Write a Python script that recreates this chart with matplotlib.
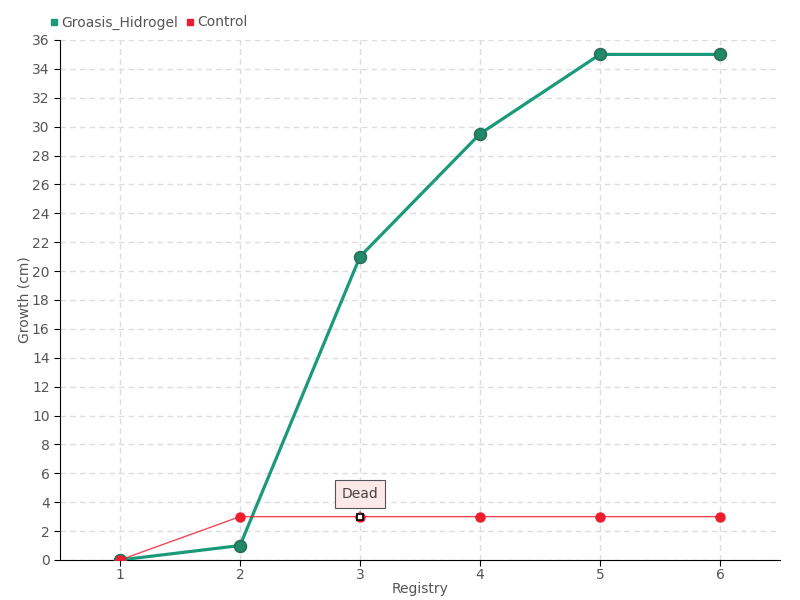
import matplotlib
matplotlib.use("Agg")
import matplotlib.pyplot as plt
from matplotlib.lines import Line2D

registry = [1, 2, 3, 4, 5, 6]
groasis = [0, 1, 21, 29.5, 35, 35]
control = [0, 3, 3, 3, 3, 3]
y_ticks = list(range(0, 37, 2))

green = '#1a9a7a'
red = '#ee1c2e'
text_col = '#555555'

fig = plt.figure(figsize=(8, 6), dpi=100)
ax = fig.add_axes([0.075, 0.0667, 0.9, 0.8667])

ax.plot(registry, groasis, color=green, linewidth=2.3, marker='o', markersize=8.5,
        markerfacecolor='#1f8a6a', markeredgecolor='#2a6e55', markeredgewidth=1.2, zorder=3)
ax.plot(registry, control, color=red, linewidth=1, alpha=0.8, zorder=4)
ax.plot(registry, control, linestyle='none', marker='o', markersize=6.5,
        markerfacecolor=red, markeredgecolor=red, zorder=5)
# highlighted point
ax.plot([registry[2]], [control[2]], linestyle='none', marker='s', markersize=4,
        markerfacecolor='white', markeredgecolor='black', markeredgewidth=1.2, zorder=6)

ax.annotate('Dead', xy=(registry[2], control[2]), xytext=(0, 16), textcoords='offset points',
            ha='center', va='center', fontsize=10, color='#444444',
            bbox=dict(boxstyle='square,pad=0.5', fc='#fde8e8', ec='#555555', lw=0.8),
            arrowprops=dict(arrowstyle='-', color='#555555', lw=0.8), zorder=7)

ax.set_xlim(0.5, 6.5)
ax.set_ylim(0, 36)
ax.set_xticks(registry)
ax.set_yticks(y_ticks)
ax.tick_params(colors=text_col, labelsize=10, length=4)
ax.tick_params(axis='y', color='black')
ax.tick_params(axis='x', color='black', pad=2)
ax.grid(True, color='#dddddd', linestyle=(0, (4, 3)), linewidth=1)
ax.set_axisbelow(True)
for s in ['top', 'right']:
    ax.spines[s].set_visible(False)
ax.spines['left'].set_color('black')
ax.spines['bottom'].set_color('black')

ax.set_xlabel('Registry', color=text_col, fontsize=10, labelpad=0)
ax.set_ylabel('Growth (cm)', color=text_col, fontsize=10, labelpad=0)

handles = [Line2D([], [], linestyle='none', marker='s', markersize=5, color=green),
           Line2D([], [], linestyle='none', marker='s', markersize=5, color=red)]
fig.legend(handles, ['Groasis_Hidrogel', 'Control'], loc='upper left',
           bbox_to_anchor=(0.045, 0.995), ncol=2, frameon=False, fontsize=10,
           handletextpad=0.1, columnspacing=0.5, labelcolor=text_col, handlelength=0.8)

fig.savefig('out.png', dpi=100)
